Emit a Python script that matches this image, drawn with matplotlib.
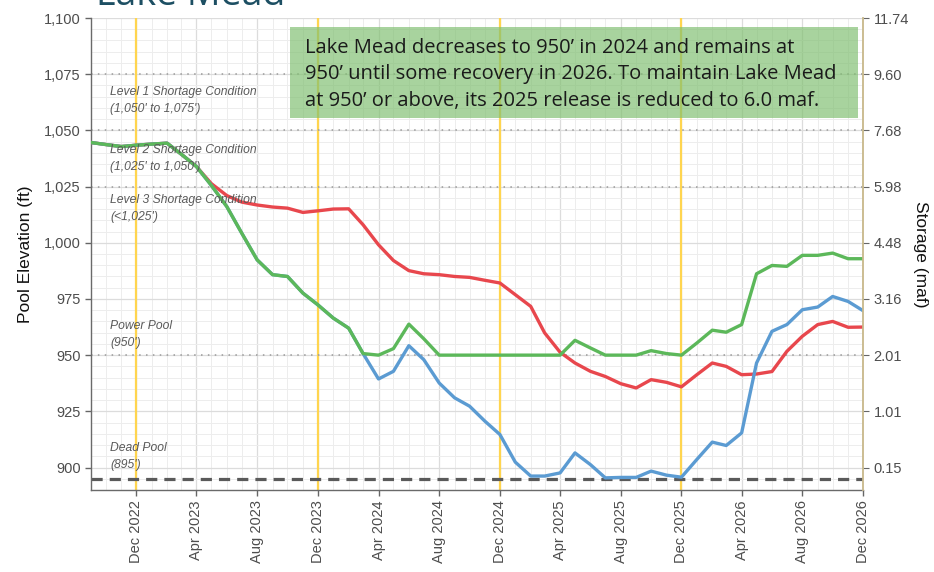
import pandas as pd
import matplotlib
matplotlib.use("Agg")
import matplotlib.pyplot as plt
import matplotlib.dates as mdates
from matplotlib.patches import Rectangle
from matplotlib.ticker import MultipleLocator, FixedLocator

# monthly end-of-month pool elevation (ft), Sep 2022 .. Dec 2026
months = pd.date_range("2022-09-01", "2026-12-01", freq="MS")

green = [1044.6, 1043.7, 1042.8, 1043.4, 1043.9, 1044.3, 1039.5, 1033.9, 1025.5, 1016.1,
         1004.3, 992.4, 985.8, 985.0, 977.6, 972.4, 966.5, 962.0, 950.7, 950.0,
         952.9, 963.8, 957.3, 950.0, 950.0, 950.0, 950.0, 950.0, 950.0, 950.0,
         950.0, 950.0, 956.6, 953.2, 950.0, 950.0, 950.0, 952.0, 950.7, 950.0,
         955.4, 961.1, 960.2, 963.6, 986.2, 989.9, 989.5, 994.4, 994.4, 995.4,
         992.9, 992.9]

red = [1044.6, 1043.7, 1042.8, 1043.4, 1043.9, 1044.3, 1039.5, 1033.9, 1026.3, 1021.0,
       1018.1, 1016.8, 1015.9, 1015.4, 1013.5, 1014.2, 1015.0, 1015.1, 1008.0, 999.1,
       992.1, 987.6, 986.2, 985.8, 985.0, 984.6, 983.3, 982.1, 976.9, 971.7,
       959.9, 951.3, 946.5, 942.8, 940.5, 937.3, 935.4, 939.1, 937.9, 935.9,
       941.3, 946.5, 945.0, 941.3, 941.6, 942.7, 951.7, 958.4, 963.6, 965.0,
       962.4, 962.5]

blue = [1044.6, 1043.7, 1042.8, 1043.4, 1043.9, 1044.3, 1039.5, 1033.9, 1025.5, 1016.1,
        1004.3, 992.4, 985.8, 985.0, 977.6, 972.4, 966.5, 962.0, 950.7, 939.4,
        942.8, 954.2, 948.0, 937.6, 931.0, 927.3, 920.6, 914.7, 902.4, 896.2,
        896.2, 897.6, 906.5, 901.3, 895.4, 895.6, 895.6, 898.4, 896.6, 895.7,
        903.6, 911.3, 909.8, 915.4, 946.5, 960.6, 963.6, 970.2, 971.4, 976.1,
        973.9, 969.8]

elev_ticks = [900, 925, 950, 975, 1000, 1025, 1050, 1075, 1100]
storage_labels = ["0.15", "1.01", "2.01", "3.16", "4.48", "5.98", "7.68", "9.60", "11.74"]

tier_lines = [1075, 1050, 1025, 950]
dead_pool = 895

tier_notes = [
    ("Level 1 Shortage Condition\n(1,050' to 1,075')", 1063.2),
    ("Level 2 Shortage Condition\n(1,025' to 1,050')", 1037.3),
    ("Level 3 Shortage Condition\n(<1,025')", 1015.3),
    ("Power Pool\n(950')", 959.3),
    ("Dead Pool\n(895')", 904.7),
]

note_text = ("Lake Mead decreases to 950\u2019 in 2024 and remains at\n"
             "950\u2019 until some recovery in 2026. To maintain Lake Mead\n"
             "at 950\u2019 or above, its 2025 release is reduced to 6.0 maf.")

GRAY_TXT = "#4d4d4d"

fig = plt.figure(figsize=(9.34, 5.72), dpi=100)
ax = fig.add_axes([91 / 934, 1 - 490 / 572, 772 / 934, 472 / 572])

# grid
ax.set_ylim(890, 1100)
ax.set_xlim(months[0], months[-1])
ax.yaxis.set_major_locator(FixedLocator(elev_ticks))
ax.yaxis.set_minor_locator(MultipleLocator(5))
ax.xaxis.set_major_locator(FixedLocator(mdates.date2num(months[3::4])))
ax.xaxis.set_minor_locator(mdates.MonthLocator())
ax.grid(True, which="major", color="#dcdcdc", lw=0.9, zorder=0)
ax.grid(True, which="minor", color="#ededed", lw=0.7, zorder=0)
ax.set_axisbelow(True)

# December markers
for d in months[months.month == 12][:-1]:
    ax.axvline(d, color="#ffd54f", lw=1.6, zorder=1)

# tier lines
for lvl in tier_lines:
    ax.axhline(lvl, color="#9a9a9a", lw=1.1, ls=(0, (1, 3.5)), zorder=1)
ax.axhline(dead_pool, color="#5a5a5a", lw=2.3, ls=(0, (3.5, 2.2)), zorder=2)

ax.plot(months, red, color="#e8474d", lw=2.4, zorder=3, solid_capstyle="round")
ax.plot(months, blue, color="#5b9bd2", lw=2.4, zorder=4, solid_capstyle="round")
ax.plot(months, green, color="#5cb85a", lw=2.4, zorder=5, solid_capstyle="round")

for txt, y in tier_notes:
    ax.text(0.025, y, txt, transform=ax.get_yaxis_transform(), ha="left", va="center",
            fontsize=8.7, style="italic", color="#5a5a5a", linespacing=1.55,
            family="Liberation Sans", zorder=6)

# axes styling
ax.set_yticklabels([f"{v:,}" for v in elev_ticks])
ax.set_xticklabels([d.strftime("%b %Y") for d in months[3::4]], rotation=90)
ax.tick_params(axis="both", which="major", colors="#666666", labelcolor=GRAY_TXT,
               labelsize=10.5, length=4, width=1)
ax.tick_params(axis="both", which="minor", length=0)
for lab in ax.get_xticklabels() + ax.get_yticklabels():
    lab.set_family("Liberation Sans")
for s in ["top", "right"]:
    ax.spines[s].set_visible(False)
for s in ["left", "bottom"]:
    ax.spines[s].set_color("#6a6a6a")
    ax.spines[s].set_linewidth(1.0)
ax.set_ylabel("Pool Elevation (ft)", fontsize=12.5, family="Liberation Sans",
              color="#111111", labelpad=8)

ax2 = ax.twinx()
ax2.set_ylim(ax.get_ylim())
ax2.yaxis.set_major_locator(FixedLocator(elev_ticks))
ax2.set_yticklabels(storage_labels)
ax2.tick_params(axis="y", colors="#666666", labelcolor=GRAY_TXT, labelsize=10.5, length=4)
for lab in ax2.get_yticklabels():
    lab.set_family("Liberation Sans")
for s in ["top", "left", "bottom"]:
    ax2.spines[s].set_visible(False)
ax2.spines["right"].set_color("#c8b88a")
ax2.spines["right"].set_linewidth(1.3)
ax2.set_ylabel("Storage (maf)", fontsize=12.5, family="Liberation Sans",
               color="#111111", rotation=-90, labelpad=14)

# callout box
box = Rectangle((290 / 934, 1 - 118 / 572), 568 / 934, 91 / 572, transform=fig.transFigure,
                facecolor="#7fbf70", alpha=0.68, edgecolor="none", zorder=10)
fig.patches.append(box)
fig.text(305 / 934, 1 - 74.5 / 572, note_text, ha="left", va="center", fontsize=14.5,
         family="Open Sans", color="#1a1a1a", linespacing=1.42, zorder=11)

fig.text(96 / 934, 1 - 5 / 572, "Lake Mead", ha="left", va="baseline", fontsize=27,
         family="Open Sans", color="#1d4f63")

fig.savefig("out.png", dpi=100)
